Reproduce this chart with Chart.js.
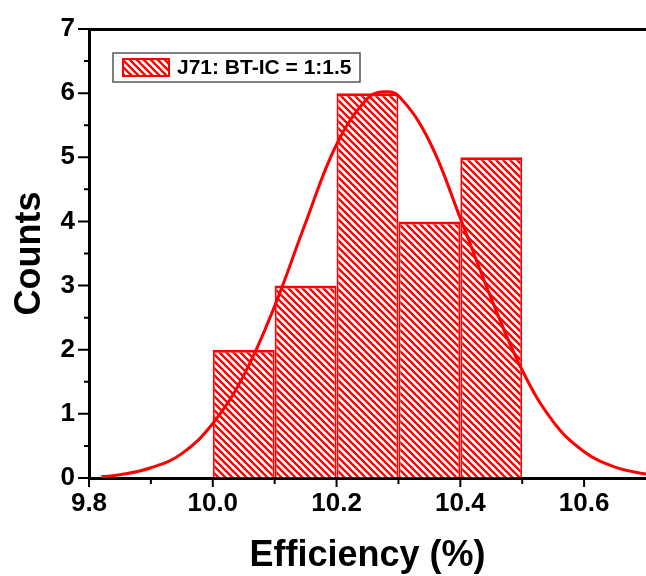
<!DOCTYPE html>
<html><head><meta charset="utf-8">
<script src="https://cdn.jsdelivr.net/npm/chart.js@4.4.0/dist/chart.umd.min.js"></script>
<style>html,body{margin:0;padding:0;background:#fff}#wrap{width:646px;height:576px;position:relative}</style>
</head><body><div id="wrap"><canvas id="c"></canvas></div>
<script>
// ---- data ----
const binCenters = [10.05, 10.15, 10.25, 10.35, 10.45];
const counts = [2, 3, 6, 4, 5];
const fitX = [9.82, 9.85, 9.9, 9.95, 10.0, 10.05, 10.1, 10.15, 10.2, 10.25, 10.275, 10.3, 10.35, 10.4, 10.45, 10.5, 10.55, 10.6, 10.65, 10.7];
const fitY = [0.02, 0.05, 0.16, 0.38, 0.85, 1.6, 2.68, 3.98, 5.2, 5.92, 6.02, 5.96, 5.25, 4.05, 2.8, 1.68, 0.88, 0.41, 0.17, 0.06];
const xMajorTicks = [9.8, 10.0, 10.2, 10.4, 10.6];
const xMinorTicks = [9.9, 10.1, 10.3, 10.5];
const yMajorTicks = [0, 1, 2, 3, 4, 5, 6, 7];
const yMinorTicks = [0.5, 1.5, 2.5, 3.5, 4.5, 5.5, 6.5];
const seriesLabel = 'J71: BT-IC = 1:1.5';
const xTitle = 'Efficiency (%)';
const yTitle = 'Counts';

const RED = '#FF0000';
function hatch(){
  const s = 7, c = document.createElement('canvas');
  c.width = s; c.height = s;
  const g = c.getContext('2d');
  g.fillStyle = '#fff'; g.fillRect(0,0,s,s);
  g.strokeStyle = RED; g.lineWidth = 2.3;
  g.beginPath();
  g.moveTo(-1,-1); g.lineTo(s+1,s+1);
  g.moveTo(-1,s-1); g.lineTo(1,s+1);
  g.moveTo(s-1,-1); g.lineTo(s+1,1);
  g.stroke();
  return g.createPattern(c,'repeat');
}
const pattern = hatch();
const FONT = "'Liberation Sans', Arial, sans-serif";

const tickPlugin = {
  id: 'minorTicks',
  afterDraw(chart){
    const ctx = chart.ctx, xs = chart.scales.x, ys = chart.scales.y, a = chart.chartArea;
    ctx.save();
    ctx.strokeStyle = '#000'; ctx.lineWidth = 2;
    ctx.beginPath();
    xMajorTicks.forEach(v => { const p = xs.getPixelForValue(v); ctx.moveTo(p, a.bottom); ctx.lineTo(p, a.bottom + 9); });
    xMinorTicks.forEach(v => { const p = xs.getPixelForValue(v); ctx.moveTo(p, a.bottom); ctx.lineTo(p, a.bottom + 6); });
    yMajorTicks.forEach(v => { const p = ys.getPixelForValue(v); ctx.moveTo(a.left, p); ctx.lineTo(a.left - 11, p); });
    yMinorTicks.forEach(v => { const p = ys.getPixelForValue(v); ctx.moveTo(a.left, p); ctx.lineTo(a.left - 5, p); });
    ctx.stroke();
    // legend
    const bx = a.left + 24, by = a.top + 24, bw = 247, bh = 29;
    ctx.strokeStyle = '#555'; ctx.lineWidth = 1.5;
    ctx.fillStyle = '#fff';
    ctx.fillRect(bx, by, bw, bh);
    ctx.strokeRect(bx, by, bw, bh);
    ctx.fillStyle = pattern;
    ctx.fillRect(bx + 9, by + 5, 48, 19);
    ctx.strokeStyle = RED; ctx.lineWidth = 2;
    ctx.strokeRect(bx + 10, by + 6, 46, 17);
    ctx.fillStyle = '#000';
    ctx.font = "bold 21px " + FONT;
    ctx.textBaseline = 'middle';
    ctx.textAlign = 'left';
    ctx.fillText(seriesLabel, bx + 64, by + bh/2 + 1);
    ctx.restore();
  }
};

new Chart(document.getElementById('c'), {
  type: 'bar',
  data: {
    datasets: [
      {
        type: 'line', label: 'fit', order: 0,
        data: fitX.map((x,i)=>({x, y: fitY[i]})),
        borderColor: RED, borderWidth: 3, pointRadius: 0,
        tension: 0.4, fill: false
      },
      {
        type: 'bar', label: seriesLabel, order: 1,
        data: binCenters.map((x,i)=>({x, y: counts[i]})),
        backgroundColor: pattern, borderColor: RED,
        borderWidth: {top: 3, left: 2, right: 2, bottom: 0}, borderSkipped: false,
        barPercentage: 1, categoryPercentage: 1, inflateAmount: 0
      }
    ]
  },
  options: {
    responsive: true, maintainAspectRatio: false, animation: false,
    layout: { padding: { top: 29, right: 0, left: 0, bottom: 0 } },
    plugins: { legend: { display: false }, tooltip: { enabled: false } },
    scales: {
      x: {
        type: 'linear', position: 'bottom', min: 9.8, max: 10.7, offset: false,
        afterFit(s){ s.height = 98; s.paddingLeft = 0; s.paddingRight = 0; },
        grid: { display: true, drawOnChartArea: false, drawTicks: false, offset: false },
        border: { display: true, color: '#000', width: 3 },
        ticks: {
          stepSize: 0.1, padding: 10, color: '#000', maxRotation: 0, autoSkip: false,
          font: { family: FONT, size: 26, weight: 'bold' },
          callback(v){ const s = Number(v).toFixed(1); return xMajorTicks.some(t => Math.abs(t - v) < 1e-6) ? s : ''; }
        },
        title: { display: true, text: xTitle, color: '#000', font: { family: FONT, size: 36, weight: 'bold', lineHeight: 1.0 }, padding: { top: 0, bottom: 2 } }
      },
      x2: {
        type: 'linear', position: 'top', min: 9.8, max: 10.7,
        afterFit(s){ s.height = 0; s.paddingLeft = 0; s.paddingRight = 0; },
        grid: { display: false, drawTicks: false },
        border: { display: true, color: '#000', width: 3 },
        ticks: { display: false }
      },
      y: {
        type: 'linear', position: 'left', min: 0, max: 7,
        afterFit(s){ s.width = 89; s.paddingTop = 0; s.paddingBottom = 0; },
        grid: { display: true, drawOnChartArea: false, drawTicks: false },
        border: { display: true, color: '#000', width: 3 },
        ticks: { stepSize: 1, padding: 14, color: '#000', font: { family: FONT, size: 26, weight: 'bold' } },
        title: { display: true, text: yTitle, color: '#000', font: { family: FONT, size: 36, weight: 'bold', lineHeight: 1.0 }, padding: { top: 12, bottom: 0 } }
      }
    }
  },
  plugins: [tickPlugin]
});
</script></body></html>
